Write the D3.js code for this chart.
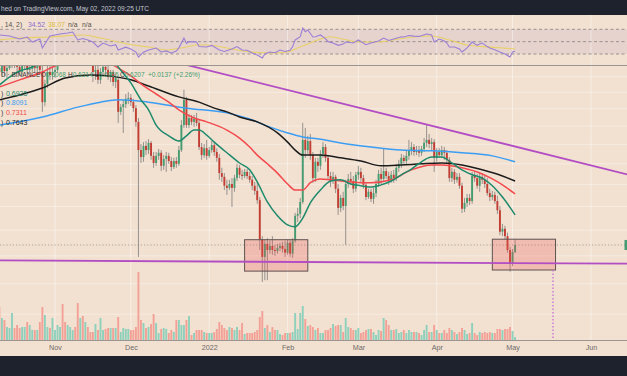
<!DOCTYPE html>
<html><head><meta charset="utf-8">
<script src="https://cdn.jsdelivr.net/npm/d3@7/dist/d3.min.js"></script>
<style>
html,body{margin:0;padding:0;overflow:hidden;background:#f2e1d1}
svg{display:block}
text{font-family:"Liberation Sans",Arial,sans-serif}
</style></head><body>
<svg id="chart" width="627" height="376"></svg>
<script>
// ---------------- DATA (XRP/USD daily, Binance) ----------------
const firstDay = "2021-10-10", lastDay = "2022-05-02";
const opens = [
1.079,1.066,1.086,1.069,1.079,1.100,1.107,1.093,1.083,1.066,1.086,1.100,1.073,1.076,1.086,1.079,1.093,1.066,0.970,1.027,1.066,1.056,
1.066,1.073,1.107,1.160,1.142,1.135,1.142,1.171,1.193,1.178,1.135,1.156,1.135,1.142,1.138,1.113,1.066,1.073,1.040,1.066,1.083,1.073,1.049,1.066,1.033,1.040,0.941,0.955,0.964,0.980,
0.983,0.970,0.952,0.912,0.835,0.817,0.846,0.835,0.854,0.820,0.802,0.820,0.828,0.795,0.812,0.820,0.807,0.792,0.807,0.800,0.835,0.903,0.977,0.903,0.923,0.912,0.920,0.909,0.843,0.822,0.840,
0.820,0.835,0.848,0.830,0.815,0.777,0.768,0.747,0.742,0.751,0.742,0.765,0.790,0.773,0.770,0.780,0.770,0.761,0.747,0.735,0.714,0.631,0.598,0.623,0.611,0.619,0.611,0.609,0.615,0.619,0.613,
0.606,0.625,0.604,0.629,0.680,0.684,0.710,0.862,0.835,0.859,0.822,0.765,0.805,0.795,0.825,0.843,0.815,0.770,0.758,0.768,0.740,0.697,0.719,0.701,0.751,0.763,0.758,0.740,
0.773,0.780,0.765,0.749,0.721,0.733,0.717,0.730,0.751,0.775,0.763,0.782,0.770,0.761,0.773,0.765,0.790,0.800,0.815,0.807,0.820,0.835,0.843,0.830,0.835,0.828,0.838,0.854,0.862,0.851,0.856,
0.815,0.830,0.822,0.835,0.828,0.810,0.765,0.780,0.761,0.768,0.747,0.695,0.708,0.719,0.712,0.770,0.765,0.747,0.768,0.761,0.751,0.730,0.721,0.726,0.712,0.692,0.647,0.653,0.638,0.611,
0.587,0.6068];
const highs = [
1.107,1.113,1.107,1.100,1.124,1.135,1.124,1.113,1.107,1.100,1.113,1.120,1.100,1.107,1.107,1.107,1.107,1.086,1.040,1.086,1.086,1.089,
1.100,1.142,1.185,1.178,1.171,1.160,1.185,1.215,1.215,1.215,1.178,1.178,1.160,1.163,1.156,1.124,1.100,1.086,1.079,1.100,1.100,1.086,1.073,1.073,1.059,1.046,0.964,0.977,0.995,1.001,
0.995,0.980,0.961,0.923,0.851,0.856,0.859,0.864,0.859,0.830,0.830,0.838,0.835,0.822,0.830,0.828,0.817,0.815,0.817,0.846,0.917,1.008,0.986,0.935,0.932,0.932,0.938,0.917,0.854,0.851,0.862,
0.843,0.859,0.856,0.840,0.825,0.790,0.777,0.761,0.761,0.765,0.773,0.800,0.797,0.785,0.787,0.787,0.780,0.770,0.756,0.754,0.721,0.638,0.631,0.634,0.629,0.638,0.621,0.623,0.625,0.627,0.629,
0.631,0.631,0.634,0.686,0.697,0.719,0.909,0.895,0.873,0.878,0.830,0.815,0.815,0.835,0.856,0.851,0.822,0.780,0.780,0.773,0.751,0.726,0.733,0.761,0.775,0.780,0.770,0.780,
0.795,0.790,0.773,0.756,0.740,0.740,0.742,0.761,0.785,0.790,0.840,0.790,0.780,0.782,0.785,0.800,0.810,0.825,0.822,0.833,0.862,0.856,0.851,0.846,0.846,0.846,0.867,0.903,0.878,0.867,0.864,
0.840,0.840,0.846,0.843,0.835,0.817,0.790,0.787,0.777,0.777,0.754,0.719,0.728,0.728,0.780,0.782,0.775,0.777,0.777,0.770,0.765,0.740,0.735,0.733,0.724,0.701,0.663,0.659,0.645,0.617,
0.613,0.6314];
const lows = [
1.056,1.053,1.053,1.046,1.073,1.079,1.079,1.066,1.053,1.056,1.073,1.059,1.059,1.066,1.063,1.066,1.056,0.941,0.958,1.014,1.040,1.040,
1.046,1.063,1.086,1.086,1.093,1.100,1.120,1.149,1.142,1.100,1.113,1.100,1.113,1.107,1.093,1.033,1.040,1.027,1.027,1.056,1.056,1.040,1.033,1.020,1.014,0.909,0.932,0.881,0.952,0.964,
0.958,0.941,0.898,0.598,0.802,0.805,0.822,0.825,0.810,0.790,0.795,0.810,0.782,0.785,0.780,0.800,0.782,0.787,0.790,0.795,0.830,0.895,0.895,0.895,0.903,0.898,0.900,0.835,0.810,0.815,0.810,
0.815,0.828,0.820,0.805,0.761,0.756,0.737,0.726,0.737,0.699,0.733,0.758,0.765,0.761,0.765,0.763,0.754,0.737,0.726,0.706,0.611,0.553,0.556,0.556,0.604,0.602,0.600,0.604,0.609,0.606,0.598,
0.602,0.598,0.596,0.625,0.667,0.675,0.706,0.815,0.825,0.810,0.754,0.756,0.780,0.785,0.815,0.805,0.761,0.744,0.751,0.730,0.682,0.688,0.692,0.621,0.742,0.749,0.730,0.733,
0.761,0.756,0.740,0.714,0.717,0.710,0.706,0.721,0.744,0.751,0.756,0.763,0.749,0.754,0.754,0.758,0.780,0.790,0.800,0.800,0.810,0.822,0.820,0.822,0.817,0.820,0.830,0.843,0.840,0.835,0.780,
0.805,0.815,0.815,0.810,0.800,0.756,0.756,0.751,0.754,0.740,0.686,0.688,0.699,0.703,0.706,0.756,0.740,0.733,0.751,0.742,0.724,0.712,0.714,0.706,0.684,0.640,0.638,0.631,0.606,0.571,
0.581,0.6055];
const closes = [
1.066,1.086,1.069,1.079,1.100,1.107,1.093,1.083,1.066,1.086,1.100,1.073,1.076,1.086,1.079,1.093,1.073,0.970,1.027,1.066,1.056,1.066,
1.073,1.107,1.160,1.142,1.135,1.142,1.171,1.193,1.178,1.135,1.156,1.135,1.142,1.138,1.113,1.066,1.073,1.040,1.066,1.083,1.073,1.049,1.066,1.033,1.046,0.941,0.955,0.964,0.980,0.983,
0.970,0.952,0.912,0.835,0.817,0.846,0.835,0.854,0.820,0.802,0.820,0.828,0.795,0.812,0.820,0.807,0.792,0.807,0.800,0.835,0.903,0.977,0.903,0.923,0.912,0.920,0.909,0.843,0.822,0.840,0.820,
0.835,0.848,0.830,0.815,0.777,0.768,0.747,0.742,0.751,0.742,0.765,0.790,0.773,0.770,0.780,0.770,0.761,0.747,0.735,0.714,0.631,0.598,0.623,0.611,0.619,0.611,0.609,0.615,0.619,0.613,0.606,
0.625,0.604,0.629,0.680,0.684,0.710,0.862,0.835,0.859,0.822,0.765,0.805,0.795,0.825,0.843,0.815,0.770,0.758,0.768,0.740,0.697,0.719,0.701,0.751,0.763,0.758,0.740,0.773,
0.780,0.765,0.749,0.721,0.733,0.717,0.730,0.751,0.775,0.763,0.782,0.770,0.761,0.773,0.765,0.790,0.800,0.815,0.807,0.820,0.835,0.843,0.830,0.835,0.828,0.838,0.854,0.862,0.851,0.856,0.815,
0.830,0.822,0.835,0.828,0.810,0.765,0.780,0.761,0.768,0.747,0.695,0.708,0.719,0.712,0.770,0.765,0.747,0.768,0.761,0.751,0.730,0.721,0.726,0.712,0.692,0.647,0.653,0.638,0.611,0.587,
0.607,0.6207];
// volume (relative units)
const volumes = [
33,22,20,13,12,27,12,15,12,13,13,18,15,10,10,10,18,33,25,13,12,22,
10,15,13,36,18,15,13,10,13,37,22,24,18,13,8,8,16,10,22,10,11,12,12,12,12,23,8,12,11,11,
10,10,13,68,20,17,12,13,16,26,17,7,11,12,11,7,10,8,20,20,15,15,20,24,5,7,10,10,10,8,7,
7,7,8,11,18,15,12,10,13,12,10,13,10,17,6,7,7,7,8,10,23,29,12,15,8,13,10,10,6,5,7,
7,7,8,27,11,27,34,21,14,15,13,10,12,7,7,10,10,12,16,14,15,15,8,22,13,12,10,10,
12,7,8,10,11,11,8,5,10,9,22,20,15,10,10,11,7,8,10,7,10,8,8,8,7,5,10,15,8,8,15,
10,7,7,10,7,12,10,8,6,8,12,10,6,7,17,7,5,8,7,8,7,8,7,7,11,11,10,11,11,13,
9,3];
// moving averages [date, value]
const ma20 = [["2021-10-10",1.023],["2021-10-14",1.049],["2021-10-18",1.069],["2021-10-22",1.079],["2021-10-27",1.100],["2021-11-05",1.124],["2021-11-15",1.160],["2021-11-22",1.135],["2021-11-26",1.083],["2021-12-01",1.030],["2021-12-05",0.977],["2021-12-08",0.947],["2021-12-11",0.903],["2021-12-16",0.873],["2021-12-20",0.859],["2021-12-23",0.873],["2021-12-26",0.889],["2021-12-28",0.889],["2021-12-31",0.875],["2022-01-03",0.856],["2022-01-08",0.828],["2022-01-13",0.802],["2022-01-17",0.785],["2022-01-20",0.756],["2022-01-24",0.710],["2022-01-28",0.680],["2022-02-01",0.661],["2022-02-04",0.657],["2022-02-07",0.675],["2022-02-10",0.708],["2022-02-14",0.737],["2022-02-18",0.758],["2022-02-22",0.761],["2022-02-26",0.751],["2022-03-02",0.747],["2022-03-06",0.744],["2022-03-10",0.749],["2022-03-14",0.758],["2022-03-18",0.773],["2022-03-22",0.787],["2022-03-26",0.805],["2022-03-30",0.817],["2022-04-03",0.817],["2022-04-07",0.802],["2022-04-11",0.785],["2022-04-15",0.773],["2022-04-19",0.765],["2022-04-23",0.747],["2022-04-27",0.721],["2022-05-02",0.682]];
const ma50 = [["2021-10-10",1.017],["2021-10-18",1.040],["2021-10-27",1.066],["2021-11-01",1.086],["2021-11-10",1.107],["2021-11-19",1.107],["2021-11-26",1.079],["2021-12-01",1.053],["2021-12-05",1.027],["2021-12-11",0.995],["2021-12-16",0.970],["2021-12-20",0.947],["2021-12-26",0.923],["2021-12-31",0.912],["2022-01-08",0.889],["2022-01-13",0.867],["2022-01-17",0.843],["2022-01-20",0.822],["2022-01-24",0.800],["2022-01-28",0.777],["2022-02-01",0.751],["2022-02-04",0.737],["2022-02-07",0.737],["2022-02-10",0.754],["2022-02-14",0.763],["2022-02-18",0.761],["2022-02-26",0.756],["2022-03-06",0.754],["2022-03-14",0.761],["2022-03-22",0.785],["2022-03-30",0.797],["2022-04-03",0.797],["2022-04-11",0.790],["2022-04-19",0.775],["2022-04-23",0.763],["2022-04-27",0.749],["2022-05-02",0.728]];
const ma100 = [["2021-10-10",0.977],["2021-10-18",0.992],["2021-10-27",1.014],["2021-11-05",1.046],["2021-11-15",1.056],["2021-11-22",1.053],["2021-12-01",1.040],["2021-12-08",1.020],["2021-12-20",0.986],["2021-12-28",0.970],["2022-01-03",0.952],["2022-01-08",0.941],["2022-01-13",0.926],["2022-01-20",0.912],["2022-01-28",0.881],["2022-02-01",0.856],["2022-02-04",0.835],["2022-02-07",0.822],["2022-02-14",0.822],["2022-02-22",0.815],["2022-03-02",0.807],["2022-03-10",0.795],["2022-03-18",0.797],["2022-03-26",0.800],["2022-04-03",0.802],["2022-04-11",0.797],["2022-04-19",0.785],["2022-04-27",0.770],["2022-05-02",0.758]];
const ma200 = [["2021-10-10",0.903],["2021-10-27",0.926],["2021-11-10",0.955],["2021-11-19",0.970],["2021-11-26",0.977],["2021-12-08",0.970],["2021-12-23",0.952],["2022-01-08",0.938],["2022-01-17",0.920],["2022-01-24",0.900],["2022-02-01",0.881],["2022-02-07",0.870],["2022-02-14",0.864],["2022-02-22",0.854],["2022-03-06",0.843],["2022-03-18",0.835],["2022-03-30",0.833],["2022-04-11",0.828],["2022-04-23",0.820],["2022-05-02",0.805]];
const maLegend = ["0.6925","0.8091","0.7311","0.7643"];
// RSI (14) and its signal line
const rsi = [["2021-10-10",60.8],["2021-10-14",59.2],["2021-10-18",54.3],["2021-10-21",57.5],["2021-10-23",49.4],["2021-10-26",54.3],["2021-10-27",39.7],["2021-10-30",59.2],["2021-11-03",62.4],["2021-11-06",64.0],["2021-11-08",65.6],["2021-11-10",52.7],["2021-11-12",55.0],["2021-11-14",52.7],["2021-11-16",49.4],["2021-11-18",41.3],["2021-11-20",47.8],["2021-11-23",43.0],["2021-11-25",45.0],["2021-11-26",36.5],["2021-11-29",41.0],["2021-12-01",38.0],["2021-12-03",33.2],["2021-12-04",25.1],["2021-12-06",33.0],["2021-12-08",36.5],["2021-12-11",39.7],["2021-12-13",33.2],["2021-12-15",35.0],["2021-12-17",31.6],["2021-12-19",34.9],["2021-12-20",40.0],["2021-12-22",55.9],["2021-12-23",47.0],["2021-12-24",50.0],["2021-12-27",49.4],["2021-12-28",42.0],["2021-12-31",41.3],["2022-01-02",44.0],["2022-01-05",36.5],["2022-01-07",34.0],["2022-01-10",38.1],["2022-01-12",42.0],["2022-01-14",36.5],["2022-01-16",36.0],["2022-01-18",31.6],["2022-01-20",28.4],["2022-01-22",23.5],["2022-01-23",30.0],["2022-01-25",33.2],["2022-01-27",32.0],["2022-01-29",36.5],["2022-01-31",34.0],["2022-02-02",36.0],["2022-02-03",42.0],["2022-02-04",52.7],["2022-02-06",58.0],["2022-02-07",72.1],["2022-02-08",66.0],["2022-02-09",68.9],["2022-02-11",57.5],["2022-02-12",58.0],["2022-02-14",60.8],["2022-02-16",55.0],["2022-02-17",50.0],["2022-02-19",47.8],["2022-02-21",44.0],["2022-02-23",46.0],["2022-02-24",49.4],["2022-02-27",47.8],["2022-03-01",52.7],["2022-03-04",45.0],["2022-03-06",47.8],["2022-03-09",51.1],["2022-03-11",55.9],["2022-03-13",52.0],["2022-03-15",54.3],["2022-03-18",58.0],["2022-03-19",57.5],["2022-03-21",60.0],["2022-03-23",59.0],["2022-03-25",58.5],["2022-03-28",62.4],["2022-03-30",60.8],["2022-03-31",49.4],["2022-04-02",54.3],["2022-04-04",51.0],["2022-04-05",47.8],["2022-04-06",41.3],["2022-04-08",41.3],["2022-04-10",38.0],["2022-04-11",33.2],["2022-04-13",40.0],["2022-04-15",49.4],["2022-04-17",44.0],["2022-04-18",46.2],["2022-04-19",47.8],["2022-04-21",42.0],["2022-04-22",39.7],["2022-04-24",37.0],["2022-04-26",33.2],["2022-04-28",30.0],["2022-04-30",25.1],["2022-05-01",33.2],["2022-05-02",34.52]];
const rsiSignal = [["2021-10-10",52.7],["2021-10-18",55.9],["2021-10-30",57.5],["2021-11-12",60.8],["2021-11-19",55.9],["2021-12-02",44.6],["2021-12-08",41.3],["2021-12-15",36.5],["2021-12-23",41.3],["2021-12-28",45.0],["2022-01-04",43.0],["2022-01-10",38.1],["2022-01-18",33.0],["2022-01-26",31.6],["2022-02-01",33.2],["2022-02-05",39.7],["2022-02-09",46.2],["2022-02-14",54.3],["2022-02-18",58.0],["2022-02-24",53.0],["2022-03-02",49.4],["2022-03-09",49.4],["2022-03-17",54.3],["2022-03-23",57.5],["2022-03-30",59.2],["2022-04-06",52.7],["2022-04-13",44.6],["2022-04-19",42.0],["2022-04-26",40.0],["2022-05-02",38.07]];
const rsiLevels = [70, 50, 30];
// drawings
const trendLine = [["2021-11-19",1.165],["2022-06-16",0.773]];
const supportLine = [["2021-10-08",0.5915],["2022-06-16",0.5855]];
const boxStart = ["2022-01-15","2022-04-23"], boxEnd = ["2022-02-09","2022-05-18"];
const boxTop = [0.631, 0.632], boxBottom = [0.572, 0.574];
const targetDate = "2022-05-17";
const priceGrid = [0.50,0.55,0.60,0.65,0.70,0.75,0.80,0.85,0.90,0.95,1.00,1.05];
const monthTicks = ["2021-11-01","2021-12-01","2022-01-01","2022-02-01","2022-03-01","2022-04-01","2022-05-01","2022-06-01"];
const monthLabels = ["Nov","Dec","2022","Feb","Mar","Apr","May","Jun"];
const lastOHLC = {O:"0.6068",H:"0.6314",L:"0.6055",C:"0.6207",chg:"+0.0137 (+2.26%)"};

// ---------------- LAYOUT ----------------
const W=627,H=376, mainTop=66, mainBot=340, rsiTop=15, rsiBot=65;
const parse=d3.utcParse("%Y-%m-%d");
const DAY=864e5, nov1=Date.UTC(2021,10,1);
const x=d3.scaleUtc().domain([new Date(nov1-21.757*DAY), new Date(nov1+226.27*DAY)]).range([0,W]);
const y=d3.scaleLog().domain([0.4612,1.086]).range([mainBot,mainTop]);
const yVol=d3.scaleLinear().domain([0,68]).range([mainBot,272]);
const yR=d3.scaleLinear().domain([30,70]).range([54,29.3]);
const days=d3.utcDay.range(parse(firstDay), d3.utcDay.offset(parse(lastDay),1));
const n=Math.min(days.length,opens.length,highs.length,lows.length,closes.length);
const bars=d3.range(n).map(i=>({d:days[i],o:opens[i],h:highs[i],l:lows[i],c:closes[i],v:volumes[i]||0}));

const UP="#449c70", DOWN="#c43d32", WICK="#8c8886";
const svg=d3.select("#chart");
const defs=svg.append("defs");
defs.append("clipPath").attr("id","mainClip").append("rect").attr("x",0).attr("y",mainTop).attr("width",W).attr("height",mainBot-mainTop);
defs.append("clipPath").attr("id","rsiClip").append("rect").attr("x",0).attr("y",rsiTop).attr("width",W).attr("height",rsiBot-rsiTop);

svg.append("rect").attr("width",W).attr("height",H).attr("fill","#f2e1d1");

// ---------- RSI pane ----------
const rp=svg.append("g").attr("clip-path","url(#rsiClip)");
rp.append("rect").attr("x",0).attr("width",W).attr("y",yR(70)).attr("height",yR(30)-yR(70)).attr("fill","#e7d3cd");
rp.selectAll(".vg").data(monthTicks).join("line").attr("x1",d=>x(parse(d))).attr("x2",d=>x(parse(d)))
  .attr("y1",rsiTop).attr("y2",rsiBot).attr("stroke","rgba(255,255,255,0.45)").attr("stroke-width",1);
rp.selectAll(".lv").data(rsiLevels).join("line").attr("x1",0).attr("x2",W).attr("y1",d=>yR(d)).attr("y2",d=>yR(d))
  .attr("stroke","#8f8a8a").attr("stroke-width",0.9).attr("stroke-dasharray","3,2.5");
rp.append("path").datum(rsiSignal).attr("d",d3.line().x(d=>x(parse(d[0]))).y(d=>yR(d[1])).curve(d3.curveMonotoneX))
  .attr("fill","none").attr("stroke","#e8cf68").attr("stroke-width",1.1);
rp.append("path").datum(rsi).attr("d",d3.line().x(d=>x(parse(d[0]))).y(d=>yR(d[1])))
  .attr("fill","none").attr("stroke","#9a7fd6").attr("stroke-width",1.1);
const rh=svg.append("text").attr("x",1).attr("y",26.5).attr("font-size",6.8).attr("fill","#55504e");
rh.append("tspan").text(", 14, 2)");
rh.append("tspan").attr("x",28).attr("fill","#8e6ccf").text(rsi[rsi.length-1][1].toFixed(2));
rh.append("tspan").attr("x",48).attr("fill","#d9b93f").text(rsiSignal[rsiSignal.length-1][1].toFixed(2));
rh.append("tspan").attr("x",68).text("n/a");
rh.append("tspan").attr("x",82).text("n/a");

// ---------- main pane ----------
const mp=svg.append("g").attr("clip-path","url(#mainClip)");
mp.selectAll(".vg").data(monthTicks).join("line").attr("x1",d=>x(parse(d))).attr("x2",d=>x(parse(d)))
  .attr("y1",mainTop).attr("y2",mainBot).attr("stroke","rgba(255,255,255,0.45)").attr("stroke-width",1);
mp.selectAll(".hg").data(priceGrid).join("line").attr("x1",0).attr("x2",W).attr("y1",d=>y(d)).attr("y2",d=>y(d))
  .attr("stroke","rgba(255,255,255,0.35)").attr("stroke-width",1);
// volume
mp.selectAll(".vol").data(bars).join("rect")
  .attr("x",d=>x(d.d)-0.95).attr("width",1.9)
  .attr("y",d=>yVol(d.v)).attr("height",d=>mainBot-yVol(d.v))
  .attr("fill",d=>d.c>=d.o?"#8ed0bc":"#f3a096");
// last price dotted line
mp.append("line").attr("x1",0).attr("x2",W).attr("y1",y(closes[n-1])).attr("y2",y(closes[n-1]))
  .attr("stroke","#a09a96").attr("stroke-width",0.9).attr("stroke-dasharray","1.2,2");
// candles
const cg=mp.append("g");
cg.selectAll(".wk").data(bars).join("line").attr("x1",d=>x(d.d)).attr("x2",d=>x(d.d))
  .attr("y1",d=>y(d.h)).attr("y2",d=>y(d.l)).attr("stroke",WICK).attr("stroke-width",0.9);
cg.selectAll(".bd").data(bars).join("rect")
  .attr("x",d=>x(d.d)-0.95).attr("width",1.9)
  .attr("y",d=>y(Math.max(d.o,d.c))).attr("height",d=>Math.max(0.8,Math.abs(y(d.o)-y(d.c))))
  .attr("fill",d=>d.c>=d.o?UP:DOWN);
// moving averages
const maLine=d3.line().x(d=>x(parse(d[0]))).y(d=>y(d[1])).curve(d3.curveMonotoneX);
[[ma200,"#3b9df3"],[ma100,"#1c1c1c"],[ma50,"#f24a4d"],[ma20,"#1d8a6c"]].forEach(([arr,col])=>{
  mp.append("path").datum(arr).attr("d",maLine).attr("fill","none").attr("stroke",col).attr("stroke-width",1.5);
});
// boxes
mp.selectAll(".box").data(boxStart.map((s,i)=>({s,e:boxEnd[i],t:boxTop[i],b:boxBottom[i]}))).join("rect")
  .attr("x",d=>x(parse(d.s))).attr("width",d=>x(parse(d.e))-x(parse(d.s)))
  .attr("y",d=>y(d.t)).attr("height",d=>y(d.b)-y(d.t))
  .attr("fill","rgba(236,84,84,0.26)").attr("stroke","#5e5250").attr("stroke-width",1);
// target dotted vertical
mp.append("line").attr("x1",x(parse(targetDate))).attr("x2",x(parse(targetDate)))
  .attr("y1",y(boxBottom[1])).attr("y2",mainBot).attr("stroke","#c774d8").attr("stroke-width",1.4).attr("stroke-dasharray","1.5,2");
// support & trend lines
const dl=d3.line().x(d=>x(parse(d[0]))).y(d=>y(d[1]));
mp.append("path").datum(supportLine).attr("d",dl).attr("fill","none").attr("stroke","#b24dc4").attr("stroke-width",1.8);
mp.append("path").datum(trendLine).attr("d",dl).attr("fill","none").attr("stroke","#b24dc4").attr("stroke-width",1.8);
// price scale tag at right edge
mp.append("rect").attr("x",W-2.5).attr("y",y(closes[n-1])-5).attr("width",3).attr("height",10).attr("fill",UP);

// legends
const lg=svg.append("text").attr("y",77).attr("font-size",6.5).attr("fill","#3a3634");
lg.append("tspan").attr("x",1).text("D · BINANCE");
[["O",lastOHLC.O,41],["H",lastOHLC.H,68],["L",lastOHLC.L,95],["C",lastOHLC.C,120]].forEach(([k,v,px])=>{
  lg.append("tspan").attr("x",px).attr("fill","#3a3634").text(k);
  lg.append("tspan").attr("fill",UP).text(v);
});
lg.append("tspan").attr("x",148).attr("fill",UP).text(lastOHLC.chg);
const maCols=["#1d8a6c","#3b9df3","#f24a4d","#1c1c1c"];
maLegend.forEach((v,i)=>{
  const t=svg.append("text").attr("y",95.5+i*9.8).attr("font-size",7).attr("fill","#3a3634");
  t.append("tspan").attr("x",1).text(")");
  t.append("tspan").attr("x",6).attr("fill",maCols[i]).text(v);
});

// separators & axis
svg.append("line").attr("x1",0).attr("x2",W).attr("y1",65.5).attr("y2",65.5).attr("stroke","#9b9592").attr("stroke-width",1);
svg.append("line").attr("x1",0).attr("x2",W).attr("y1",340.5).attr("y2",340.5).attr("stroke","#9b9592").attr("stroke-width",1);
const axis=d3.axisBottom(x).tickValues(monthTicks.map(parse)).tickFormat((d,i)=>monthLabels[i]).tickSize(0).tickPadding(4);
const ag=svg.append("g").attr("transform","translate(0,341)").call(axis);
ag.select(".domain").remove();
ag.selectAll("text").attr("font-size",7.2).attr("fill","#6e6a6a").attr("font-family","Liberation Sans, Arial, sans-serif");

// top & bottom dark bars
svg.append("rect").attr("x",0).attr("y",0).attr("width",W).attr("height",15).attr("fill","#1e222d");
svg.append("text").attr("x",1).attr("y",10.5).attr("font-size",7.5).attr("fill","#c3c6cf")
  .attr("textLength",148).attr("lengthAdjust","spacingAndGlyphs").text("hed on TradingView.com, May 02, 2022 09:25 UTC");
svg.append("rect").attr("x",0).attr("y",356).attr("width",W).attr("height",20).attr("fill","#1e222d");
</script>
</body></html>
